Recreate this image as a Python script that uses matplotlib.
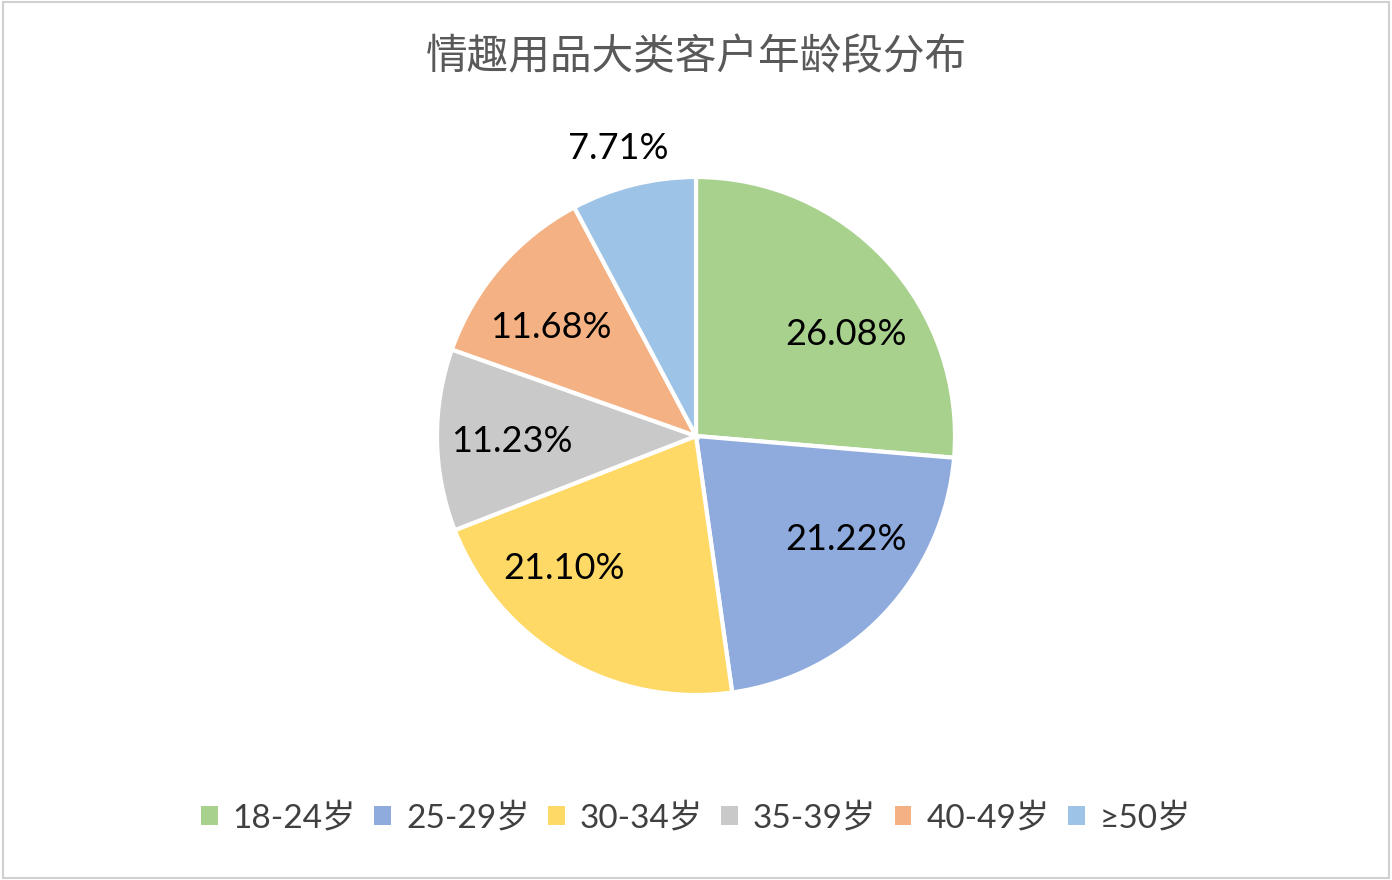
import matplotlib.pyplot as plt
from matplotlib.patches import Patch, Rectangle

# data
categories = ["18-24岁", "25-29岁", "30-34岁", "35-39岁", "40-49岁", "≥50岁"]
shares = [26.08, 21.22, 21.10, 11.23, 11.68, 7.71]
colors = ["#A9D18E", "#8FAADC", "#FFD966", "#C9C9C9", "#F4B183", "#9DC3E6"]
title = "情趣用品大类客户年龄段分布"

# where Excel put each percentage label (axes units, radius 1)
label_pos = [(0.58, 0.39), (0.58, -0.40), (-0.51, -0.51),
             (-0.71, -0.02), (-0.56, 0.42), (-0.30, 1.11)]

plt.rcParams['font.family'] = ['Lato', 'Noto Sans CJK SC', 'DejaVu Sans']

fig = plt.figure(figsize=(13.92, 8.8), dpi=100)
fig.patch.set_facecolor("white")
fig.patches.append(Rectangle((0.002, 0.002), 0.996, 0.996, transform=fig.transFigure,
                             fill=False, edgecolor="#D0D0D0", linewidth=1.5))

ax = fig.add_axes([437 / 1392, 1 - 695 / 880, 518 / 1392, 518 / 880])
wedges, _ = ax.pie(shares, colors=colors, startangle=90, counterclock=False,
                   radius=1, wedgeprops=dict(edgecolor="white", linewidth=3))
ax.set_xlim(-1.0, 1.0)
ax.set_ylim(-1.0, 1.0)
ax.set_aspect("equal")
ax.axis("off")

for v, (x, y) in zip(shares, label_pos):
    ax.text(x, y, "{:.2f}%".format(v), ha="center", va="center",
            fontsize=26, color="black", clip_on=False)

fig.text(0.5, 1 - 58 / 880, title, ha="center", va="center", fontsize=30,
         color="#595959", family=['Noto Sans CJK SC'], fontweight="light")

handles = [Patch(facecolor=c, edgecolor="none") for c in colors]
fig.legend(handles, categories, loc="center", bbox_to_anchor=(0.5, 1 - 818 / 880),
           ncol=6, frameon=False, fontsize=24, handlelength=0.5, handleheight=0.5,
           handletextpad=0.45, columnspacing=0.55, labelcolor="#404040")

fig.savefig("out.png", dpi=100)
